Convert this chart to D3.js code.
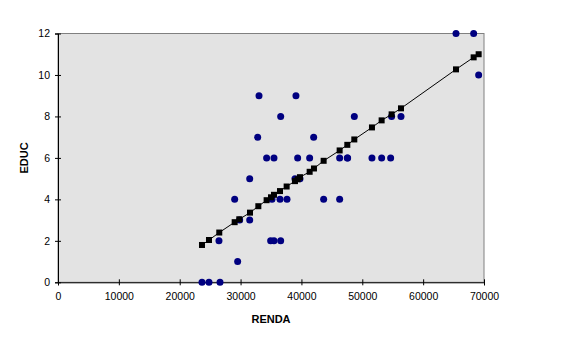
<!DOCTYPE html>
<html><head><meta charset="utf-8">
<script src="https://cdn.jsdelivr.net/npm/d3@7"></script>
<style>body{margin:0;background:#fff}svg{display:block}</style>
</head><body>
<svg id="c" width="578" height="346"></svg>
<script>
// Observed data (RENDA, EDUC)
const rendaObs = [23660,24810,26620,26450,29030,29520,29850,31500,31500,32810,33030,34280,34940,35160,35490,35490,36480,36590,36590,37630,38940,39100,39380,39760,41350,42010,43650,46280,46280,47540,47590,48690,51590,53180,54660,54820,56360,65400,68300,69120];
const educObs  = [0,0,0,2,4,1,3,5,3,7,9,6,2,4,6,2,4,2,8,4,5,9,6,5,6,7,4,6,4,6,6,8,6,6,6,8,8,12,12,10];
// Predicted values (regression line)
const rendaPred = [23660,24810,26500,29030,29790,31550,32920,34280,35000,35490,36480,37570,38940,39380,39760,41350,42060,43650,46280,47540,48690,51590,53180,54820,56360,65400,68300,69120];
const educPred  = [1.80,2.04,2.40,2.90,3.04,3.36,3.67,3.96,4.10,4.22,4.40,4.62,4.88,4.97,5.07,5.33,5.49,5.86,6.36,6.63,6.89,7.47,7.81,8.10,8.39,10.27,10.85,11.00];
const xTicks = [0,10000,20000,30000,40000,50000,60000,70000];
const yTicks = [0,2,4,6,8,10,12];

const svg = d3.select("#c");
const L=58, R=484, T=33.5, B=282.3;
const x = d3.scaleLinear().domain([0,70000]).range([L,R]);
const y = d3.scaleLinear().domain([0,12]).range([B,T]);
const font = "'Liberation Sans', Arial, sans-serif";

svg.append("rect").attr("x",L).attr("y",T).attr("width",R-L).attr("height",B-T)
  .attr("fill","#e3e3e3").attr("stroke","#808080").attr("stroke-width",1);

const xa = svg.append("g").attr("transform",`translate(0,${B})`)
  .call(d3.axisBottom(x).tickValues(xTicks).tickFormat(d3.format("d")).tickSize(3).tickPadding(7));
const ya = svg.append("g").attr("transform",`translate(${L},0)`)
  .call(d3.axisLeft(y).tickValues(yTicks).tickSize(3).tickPadding(5));
[xa,ya].forEach(a=>{
  a.selectAll("path").attr("stroke","#000");
  a.selectAll("line").attr("stroke","#000");
  a.selectAll("text").attr("font-family",font).attr("font-size","10.5px").attr("fill","#000");
});
xa.selectAll(".tick line").attr("y1",-3);
ya.selectAll(".tick line").attr("x1",3);

// Observed dots
svg.append("g").selectAll("circle").data(rendaObs.map((r,i)=>[r,educObs[i]])).join("circle")
  .attr("cx",d=>x(d[0])).attr("cy",d=>y(d[1])).attr("r",3.5).attr("fill","#000080");

// Predicted line + squares
const pred = rendaPred.map((r,i)=>[r,educPred[i]]);
svg.append("path").datum(pred).attr("fill","none").attr("stroke","#000").attr("stroke-width",1)
  .attr("d",d3.line().x(d=>x(d[0])).y(d=>y(d[1])));
svg.append("g").selectAll("rect").data(pred).join("rect")
  .attr("x",d=>x(d[0])-3).attr("y",d=>y(d[1])-3).attr("width",6).attr("height",6).attr("fill","#000");

svg.append("text").attr("x",(L+R)/2).attr("y",323).attr("text-anchor","middle")
  .attr("font-family",font).attr("font-weight","bold").attr("font-size","11px").text("RENDA");
svg.append("text").attr("transform",`translate(28,${(T+B)/2}) rotate(-90)`).attr("text-anchor","middle")
  .attr("font-family",font).attr("font-weight","bold").attr("font-size","11px").text("EDUC");
</script>
</body></html>
